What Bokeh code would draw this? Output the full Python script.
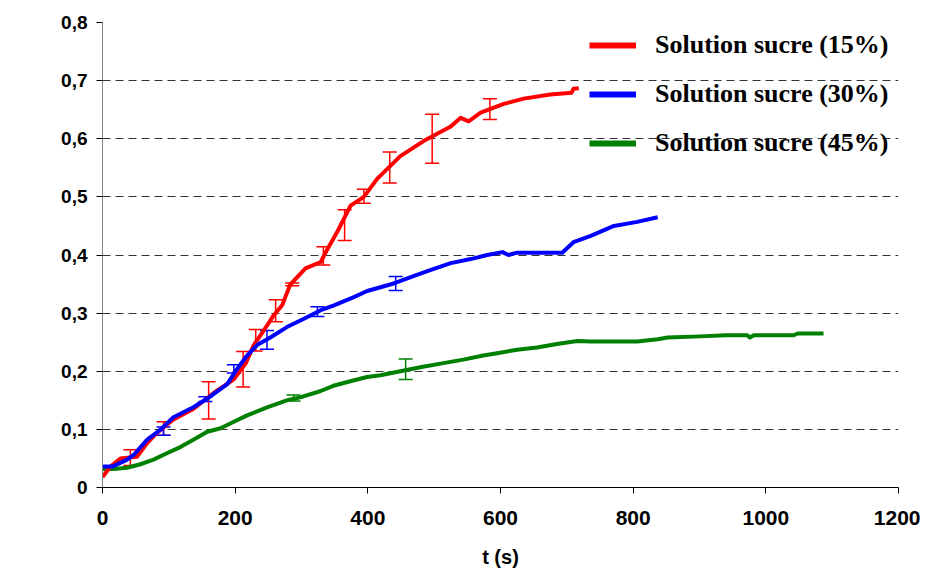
from bokeh.plotting import figure
from bokeh.models import (ColumnDataSource, Whisker, TeeHead, Legend, LegendItem,
                          FixedTicker, CustomJSTickFormatter, Label)
from bokeh.embed import file_html
from bokeh.resources import INLINE

# ---------------- data ----------------
red_t = [0, 12, 27, 52, 67, 82, 107, 137, 168, 198, 216, 228, 243, 258, 271, 283, 306, 329, 339,
         354, 374, 394, 414, 449, 484, 525, 540, 552, 570, 605, 635, 675, 707, 710, 718]
red_y = [0.018, 0.036, 0.05, 0.053, 0.076, 0.094, 0.117, 0.135, 0.163, 0.186, 0.214, 0.245, 0.27,
         0.296, 0.314, 0.349, 0.377, 0.388, 0.41, 0.44, 0.485, 0.5, 0.531, 0.57, 0.596, 0.621, 0.636,
         0.63, 0.645, 0.66, 0.669, 0.676, 0.679, 0.686, 0.687]

blue_t = [0, 15, 37, 47, 67, 87, 107, 137, 158, 188, 203, 218, 233, 253, 278, 303, 329, 348, 378,
          399, 439, 474, 494, 525, 555, 580, 603, 612, 625, 693, 710, 736, 771, 806, 837]
blue_y = [0.036, 0.036, 0.048, 0.056, 0.082, 0.099, 0.121, 0.138, 0.153, 0.178, 0.204, 0.227, 0.245,
          0.258, 0.276, 0.29, 0.305, 0.313, 0.327, 0.338, 0.351, 0.366, 0.374, 0.386, 0.393, 0.4,
          0.405, 0.4, 0.404, 0.404, 0.422, 0.433, 0.45, 0.457, 0.465]

green_t = [0, 17, 37, 57, 77, 97, 118, 137, 158, 178, 198, 218, 248, 278, 298, 329, 348, 378, 399,
           419, 449, 479, 514, 544, 574, 595, 625, 655, 685, 716, 736, 806, 837, 852, 901, 940,
           972, 976, 982, 1042, 1048, 1087]
green_y = [0.032, 0.032, 0.034, 0.04, 0.048, 0.059, 0.07, 0.082, 0.096, 0.102, 0.113, 0.124, 0.138,
           0.15, 0.155, 0.166, 0.175, 0.184, 0.19, 0.193, 0.2, 0.207, 0.214, 0.22, 0.227, 0.231,
           0.237, 0.241, 0.247, 0.252, 0.251, 0.251, 0.255, 0.258, 0.26, 0.262, 0.262, 0.258,
           0.262, 0.262, 0.265, 0.265]

# error bars
red_err_t = [42, 92, 160, 212, 231, 261, 286, 333, 365, 394, 433, 497, 584]
red_err_lo = [0.038, 0.09, 0.118, 0.173, 0.235, 0.285, 0.347, 0.383, 0.425, 0.489, 0.524, 0.558, 0.633]
red_err_hi = [0.065, 0.113, 0.182, 0.234, 0.272, 0.323, 0.352, 0.414, 0.478, 0.513, 0.577, 0.642, 0.669]

blue_err_t = [92, 155, 198, 248, 324, 442]
blue_err_lo = [0.09, 0.148, 0.197, 0.238, 0.294, 0.339]
blue_err_hi = [0.104, 0.156, 0.211, 0.27, 0.311, 0.363]

green_err_t = [288, 457]
green_err_lo = [0.149, 0.186]
green_err_hi = [0.159, 0.221]

series_labels = ["Solution sucre (15%)", "Solution sucre (30%)", "Solution sucre (45%)"]
series_colors = ["#FF0000", "#0000FF", "#008000"]

x_ticks = [0, 200, 400, 600, 800, 1000, 1200]
y_ticks = [0, 0.1, 0.2, 0.3, 0.4, 0.5, 0.6, 0.7, 0.8]

# ---------------- figure ----------------
p = figure(width=920, height=570, x_range=(0, 1200), y_range=(0, 0.8),
           output_backend="svg", toolbar_location=None,
           min_border_left=102, min_border_right=22, min_border_top=22, min_border_bottom=79)
p.outline_line_color = None
p.background_fill_color = "white"
p.border_fill_color = "white"

p.xgrid.grid_line_color = None
p.ygrid.grid_line_color = "#333333"
p.ygrid.grid_line_dash = "8 5"
p.ygrid.grid_line_width = 1

p.xaxis.ticker = FixedTicker(ticks=x_ticks)
p.yaxis.ticker = FixedTicker(ticks=y_ticks)
p.yaxis.formatter = CustomJSTickFormatter(
    code="return Math.abs(tick) < 1e-9 ? '0' : tick.toFixed(1).replace('.', ',');")

for ax in (p.xaxis, p.yaxis):
    ax.major_label_text_font = "Liberation Sans"
    ax.major_label_text_font_style = "bold"
    ax.major_label_text_color = "black"
    ax.minor_tick_line_color = None
    ax.major_tick_in = 0
    ax.major_tick_out = 6
    ax.major_tick_line_color = "black"

p.xaxis.major_label_text_font_size = "21px"
p.yaxis.major_label_text_font_size = "19px"
p.xaxis.axis_line_color = "black"
p.yaxis.axis_line_color = "#808080"
p.xaxis.major_label_standoff = 17
p.yaxis.major_label_standoff = 9

p.xaxis.axis_label = "t (s)"
p.xaxis.axis_label_text_font = "Liberation Sans"
p.xaxis.axis_label_text_font_style = "bold"
p.xaxis.axis_label_text_font_size = "20px"
p.xaxis.axis_label_text_color = "black"
p.xaxis.axis_label_standoff = 18

# Y axis label "X" with subscript "mg,eq" (screen units, relative to the frame)
p.add_layout(Label(x=-92, y=232, x_units="screen", y_units="screen", text="X",
                   text_font="Liberation Sans", text_font_style="bold", text_font_size="21px",
                   text_align="left", text_baseline="middle", text_color="black"))
p.add_layout(Label(x=-77, y=224, x_units="screen", y_units="screen", text="mg,eq",
                   text_font="Liberation Sans", text_font_style="bold", text_font_size="13px",
                   text_align="left", text_baseline="middle", text_color="black"))

# ---------------- series ----------------
all_t = [red_t, blue_t, green_t]
all_y = [red_y, blue_y, green_y]
all_et = [red_err_t, blue_err_t, green_err_t]
all_lo = [red_err_lo, blue_err_lo, green_err_lo]
all_hi = [red_err_hi, blue_err_hi, green_err_hi]

for idx in [2, 0, 1]:
    col = series_colors[idx]
    p.line(all_t[idx], all_y[idx], line_color=col, line_width=4, line_join="round")
    src = ColumnDataSource(dict(base=all_et[idx], lower=all_lo[idx], upper=all_hi[idx]))
    w = Whisker(source=src, base="base", lower="lower", upper="upper",
                line_color=col, line_width=1.5,
                upper_head=TeeHead(size=14, line_color=col, line_width=1.5),
                lower_head=TeeHead(size=14, line_color=col, line_width=1.5))
    p.add_layout(w)

nan = float("nan")
legend_items = []
for idx in range(3):
    dummy = p.line([nan, nan], [nan, nan], line_color=series_colors[idx], line_width=6)
    legend_items.append(LegendItem(label=series_labels[idx], renderers=[dummy]))

legend = Legend(items=legend_items, location=(487, 329),
                label_text_font="Liberation Serif", label_text_font_style="bold",
                label_text_font_size="26px", label_text_color="black",
                glyph_width=47, glyph_height=24, label_height=24, label_standoff=19,
                spacing=19, padding=0, margin=0,
                border_line_color=None, background_fill_alpha=0)
p.add_layout(legend)

open("out.html", "w").write(file_html(p, INLINE))
